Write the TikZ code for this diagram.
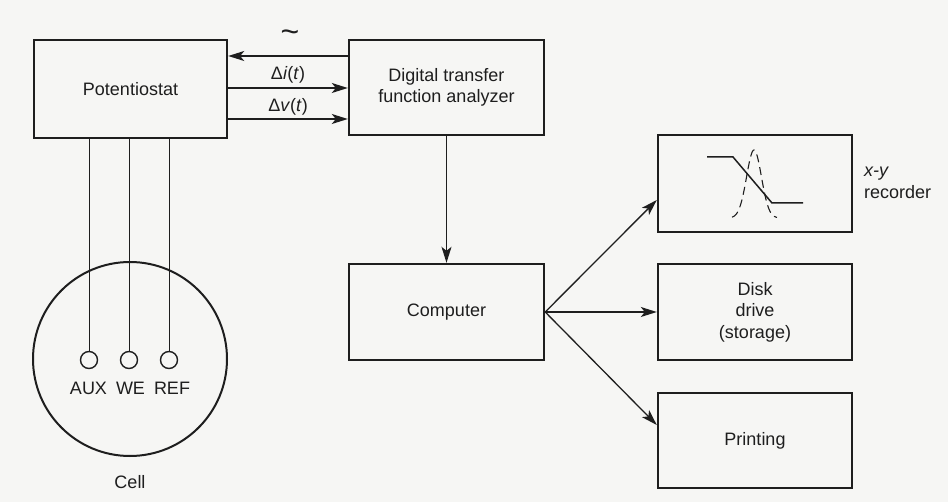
\documentclass[tikz,border=0pt]{standalone}
\usepackage{fontspec}
\setmainfont{Liberation Sans}
\usetikzlibrary{arrows.meta,calc}
\definecolor{paper}{HTML}{F6F6F4}
\definecolor{ink}{HTML}{1E1E1E}
\begin{document}
\begin{tikzpicture}[x=1pt,y=-1pt,
  every node/.style={font=\fontsize{18}{21.5}\selectfont, text=ink},
  blockbox/.style={draw=ink, line width=2.4pt, inner sep=0pt, align=center},
  wire/.style={draw=ink, line width=1pt},
  arr/.style={draw=ink, line width=1.3pt, -{Stealth[length=16pt,width=10pt,inset=4pt]}},
  electrode/.style={draw=ink, circle, line width=1.4pt, minimum size=17pt, inner sep=0pt},
  lbl/.style={inner sep=0pt}]
\fill[paper] (0,0) rectangle (948,502);
\useasboundingbox (0,0) rectangle (948,502);

% blocks
\node[blockbox, minimum width=193pt, minimum height=98pt] (pot) at (130.5,89) {Potentiostat};
\node[blockbox, minimum width=195pt, minimum height=95pt] (dig) at (446.5,87.5) {Digital transfer\\function analyzer};
\node[blockbox, minimum width=195pt, minimum height=96pt] (comp) at (446.5,312) {Computer};
\node[blockbox, minimum width=194pt, minimum height=97pt] (rec) at (755,183.5) {};
\node[blockbox, minimum width=194pt, minimum height=96pt] (disk) at (755,312) {Disk\\drive\\(storage)};
\node[blockbox, minimum width=194pt, minimum height=95pt] (prn) at (755,440.5) {Printing};

% potentiostat <-> analyzer
\coordinate (yA) at (0,56);
\coordinate (yB) at (0,88);
\coordinate (yC) at (0,119);
\draw[arr] (dig.west |- yA) -- (pot.east |- yA);
\draw[arr] (pot.east |- yB) -- (dig.west |- yB);
\draw[arr] (pot.east |- yC) -- (dig.west |- yC);
\node[lbl] (tl) at (290,36) {\fontsize{32}{32}\selectfont\textasciitilde};
\node[lbl] (li) at (288,75) {Δ\textit{i}(\textit{t})};
\node[lbl] (lv) at (288,107) {Δ\textit{v}(\textit{t})};

% analyzer -> computer
\draw[arr] (dig.south) -- (comp.north);

% computer fan-out
\coordinate (yR) at (0,200);
\coordinate (yP) at (0,425);
\draw[arr] (comp.east) -- (rec.west |- yR);
\draw[arr] (comp.east) -- (disk.west);
\draw[arr] (comp.east) -- (prn.west |- yP);

% recorder trace
\draw[ink, line width=1.5pt] (707,157) -- (733,157) -- (772,203) -- (803,203);
\draw[ink, line width=1.1pt, dash pattern=on 8pt off 5pt, domain=732:777, samples=60, smooth]
  plot (\x, {218-68*exp(-((\x-754)/10.5)^2)});
\node[lbl, anchor=west, align=left] (xy) at (864,183) {\textit{x-y}\\recorder};

% cell
\node[draw=ink, circle, line width=2pt, minimum size=194pt, inner sep=0pt] (cell) at (130,359) {};
\node[electrode] (e1) at (89,360) {};
\node[electrode] (e2) at (129,360) {};
\node[electrode] (e3) at (169,360) {};
\draw[wire] (pot.south -| e1.north) -- (e1.north);
\draw[wire] (pot.south -| e2.north) -- (e2.north);
\draw[wire] (pot.south -| e3.north) -- (e3.north);
\node[lbl] (aux) at (88.5,388) {AUX};
\node[lbl] (we) at (130.5,388) {WE};
\node[lbl] (ref) at (172,388) {REF};
\node[lbl] (celllbl) at (130,482) {Cell};
\end{tikzpicture}
\end{document}
